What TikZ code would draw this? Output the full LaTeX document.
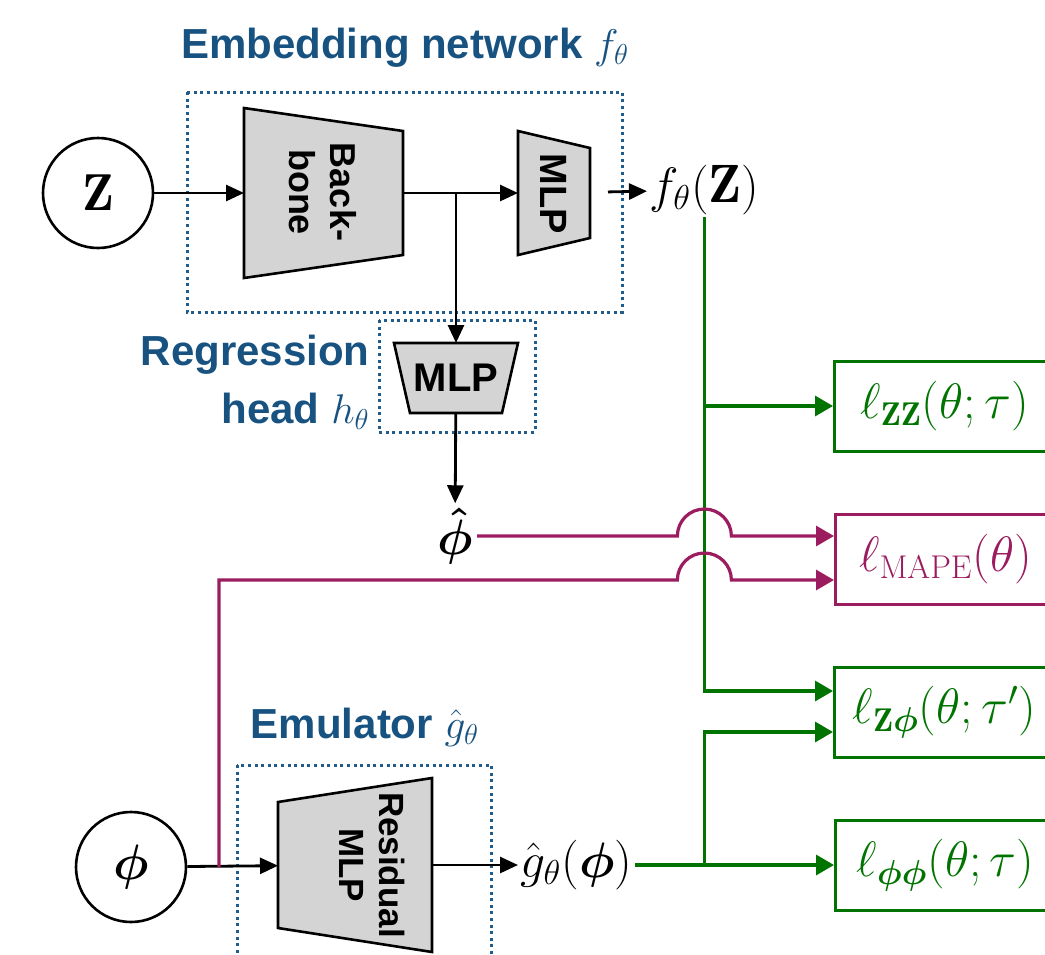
\documentclass[tikz,border=0pt]{standalone}
\usepackage{amsmath}
\usepackage{fontspec}
\setsansfont{Liberation Sans}
\usetikzlibrary{arrows.meta,calc}
\definecolor{LabelClr}{RGB}{24,82,128}
\definecolor{FrameClr}{RGB}{32,92,140}
\definecolor{LossGreenClr}{RGB}{0,115,0}
\definecolor{LossMagClr}{RGB}{155,28,95}
\definecolor{BlockClr}{RGB}{212,212,212}

\begin{document}
\begin{tikzpicture}[x=0.5pt,y=-0.5pt,
  box/.style={inner sep=0pt,outer sep=0pt},
  trap/.style={draw=black,fill=BlockClr,line width=1.3pt},
  dotbox/.style={draw=FrameClr,line width=1.5pt,dash pattern=on 1.5pt off 1.8pt},
  circ/.style={circle,draw=black,line width=1.3pt,minimum size=55pt,inner sep=0pt},
  arr/.style={line width=1.4pt,-{Triangle[length=9pt,width=8pt]}},
  garr/.style={draw=LossGreenClr,line width=1.7pt,-{Triangle[length=9pt,width=10pt]}},
  marr/.style={draw=LossMagClr,line width=1.6pt,-{Triangle[length=9pt,width=10pt]}},
  loss/.style={draw,line width=1.5pt,anchor=west,minimum width=110pt,minimum height=45pt,inner sep=0pt,font=\fontsize{23.5}{28}\selectfont},
  netlabel/.style={text=LabelClr,font=\sffamily\bfseries\fontsize{21}{29}\selectfont,inner sep=0pt},
  blocktext/.style={font=\sffamily\bfseries\fontsize{#1}{1.15\dimexpr#1pt\relax}\selectfont,align=center,inner sep=0pt}]
\useasboundingbox (0,0) rectangle (1045,954);

% labels of the three networks
\node[netlabel] (embtitle) at (405,48) {Embedding network $f_\theta$};
\node[netlabel,anchor=east,align=right] (regtitle) at (370,382) {Regression\\head $h_\theta$};
\node[netlabel] (emutitle) at (365,727) {Emulator $\hat{g}_\theta$};

\draw[dotbox] (187,92) rectangle (622,312);
\draw[dotbox] (379,320) rectangle (535,432);
\draw[dotbox] (237,765) rectangle (491,980);

% inputs
\node[circ] (z) at (98,193) {\fontsize{26}{30}\selectfont$\mathbf{Z}$};
\node[circ] (phi) at (131,867) {\fontsize{27}{30}\selectfont$\boldsymbol{\phi}$};

% blocks
\node[box,minimum width=79.5pt,minimum height=85pt] (bb) at (323.5,193) {};
\draw[trap] (bb.north west) -- ([yshift=-11.5pt]bb.north east) -- ([yshift=11.5pt]bb.south east) -- (bb.south west) -- cycle;
\node[blocktext=18,rotate=-90] (bbtext) at (323,192) {Back-\\bone};

\node[box,minimum width=36pt,minimum height=62pt] (mlp) at (554,193) {};
\draw[trap] (mlp.north west) -- ([yshift=-8.5pt]mlp.north east) -- ([yshift=8.5pt]mlp.south east) -- (mlp.south west) -- cycle;
\node[blocktext=19,rotate=-90] (mlptext) at (554,194) {MLP};

\node[box,minimum width=62pt,minimum height=35pt] (reg) at (456,378) {};
\draw[trap] (reg.north west) -- (reg.north east) -- ([xshift=-8pt]reg.south east) -- ([xshift=8pt]reg.south west) -- cycle;
\node[blocktext=20] (regtext) at (456,378) {MLP};

\node[box,minimum width=77pt,minimum height=87pt] (res) at (355,865) {};
\draw[trap] ([yshift=-12pt]res.north west) -- (res.north east) -- (res.south east) -- ([yshift=12pt]res.south west) -- cycle;
\node[blocktext=17.5,rotate=-90] (restext) at (372,865) {Residual\\MLP};

% outputs
\node[anchor=west,inner sep=1pt,font=\fontsize{27}{30}\selectfont] (fz) at (647,190) {$f_\theta(\mathbf{Z})$};
\node[inner sep=2pt,font=\fontsize{31}{34}\selectfont] (phihat) at (455,536) {$\boldsymbol{\hat{\phi}}$};
\node[anchor=west,inner sep=1pt,font=\fontsize{27}{30}\selectfont] (gphi) at (518,865) {$\hat{g}_\theta(\boldsymbol{\phi})$};

% losses
\node[loss,draw=LossGreenClr,text=LossGreenClr] (lzz) at (833,406) {$\ell_{\mathbf{ZZ}}(\theta;\tau)$};
\node[loss,draw=LossMagClr,text=LossMagClr] (mape) at (834,559) {$\ell_{\mathrm{MAPE}}(\theta)$};
\node[loss,draw=LossGreenClr,text=LossGreenClr] (lzphi) at (833,712) {$\ell_{\mathbf{Z}\boldsymbol{\phi}}(\theta;\tau')$};
\node[loss,draw=LossGreenClr,text=LossGreenClr] (lpp) at (834,865) {$\ell_{\boldsymbol{\phi\phi}}(\theta;\tau)$};

\coordinate (trunk) at (fz.south);
\coordinate (phisplit) at ($(phi)+(88,0)$);
\coordinate (mapelow) at ([yshift=-10.5pt]mape.west);

% black data flow
\draw[arr] (z) -- (bb);
\draw[arr] (bb) -- (mlp);
\draw[arr] (reg |- bb) -- (reg);
\draw[arr,shorten <=9pt] (mlp) -- (fz);
\draw[arr] (reg) -- (phihat);
\draw[arr] (phi) -- (res);
\draw[arr] (res) -- (gphi);

% loss inputs
\draw[garr] (trunk) |- ([yshift=10.5pt]lzphi.west);
\draw[garr] (trunk |- lzz.west) -- (lzz.west);
\draw[garr] (gphi) -- (lpp);
\draw[garr] (trunk |- gphi) |- ([yshift=-10pt]lzphi.west);
\draw[marr] (phihat.east) -- ([xshift=-13.5pt]trunk |- phihat.east) arc[start angle=180,end angle=0,radius=13.5pt] -- (mape.west |- phihat.east);
\draw[marr] (phisplit) |- ([xshift=-13.5pt]trunk |- mapelow) arc[start angle=180,end angle=0,radius=13.5pt] -- (mapelow);

\end{tikzpicture}
\end{document}
